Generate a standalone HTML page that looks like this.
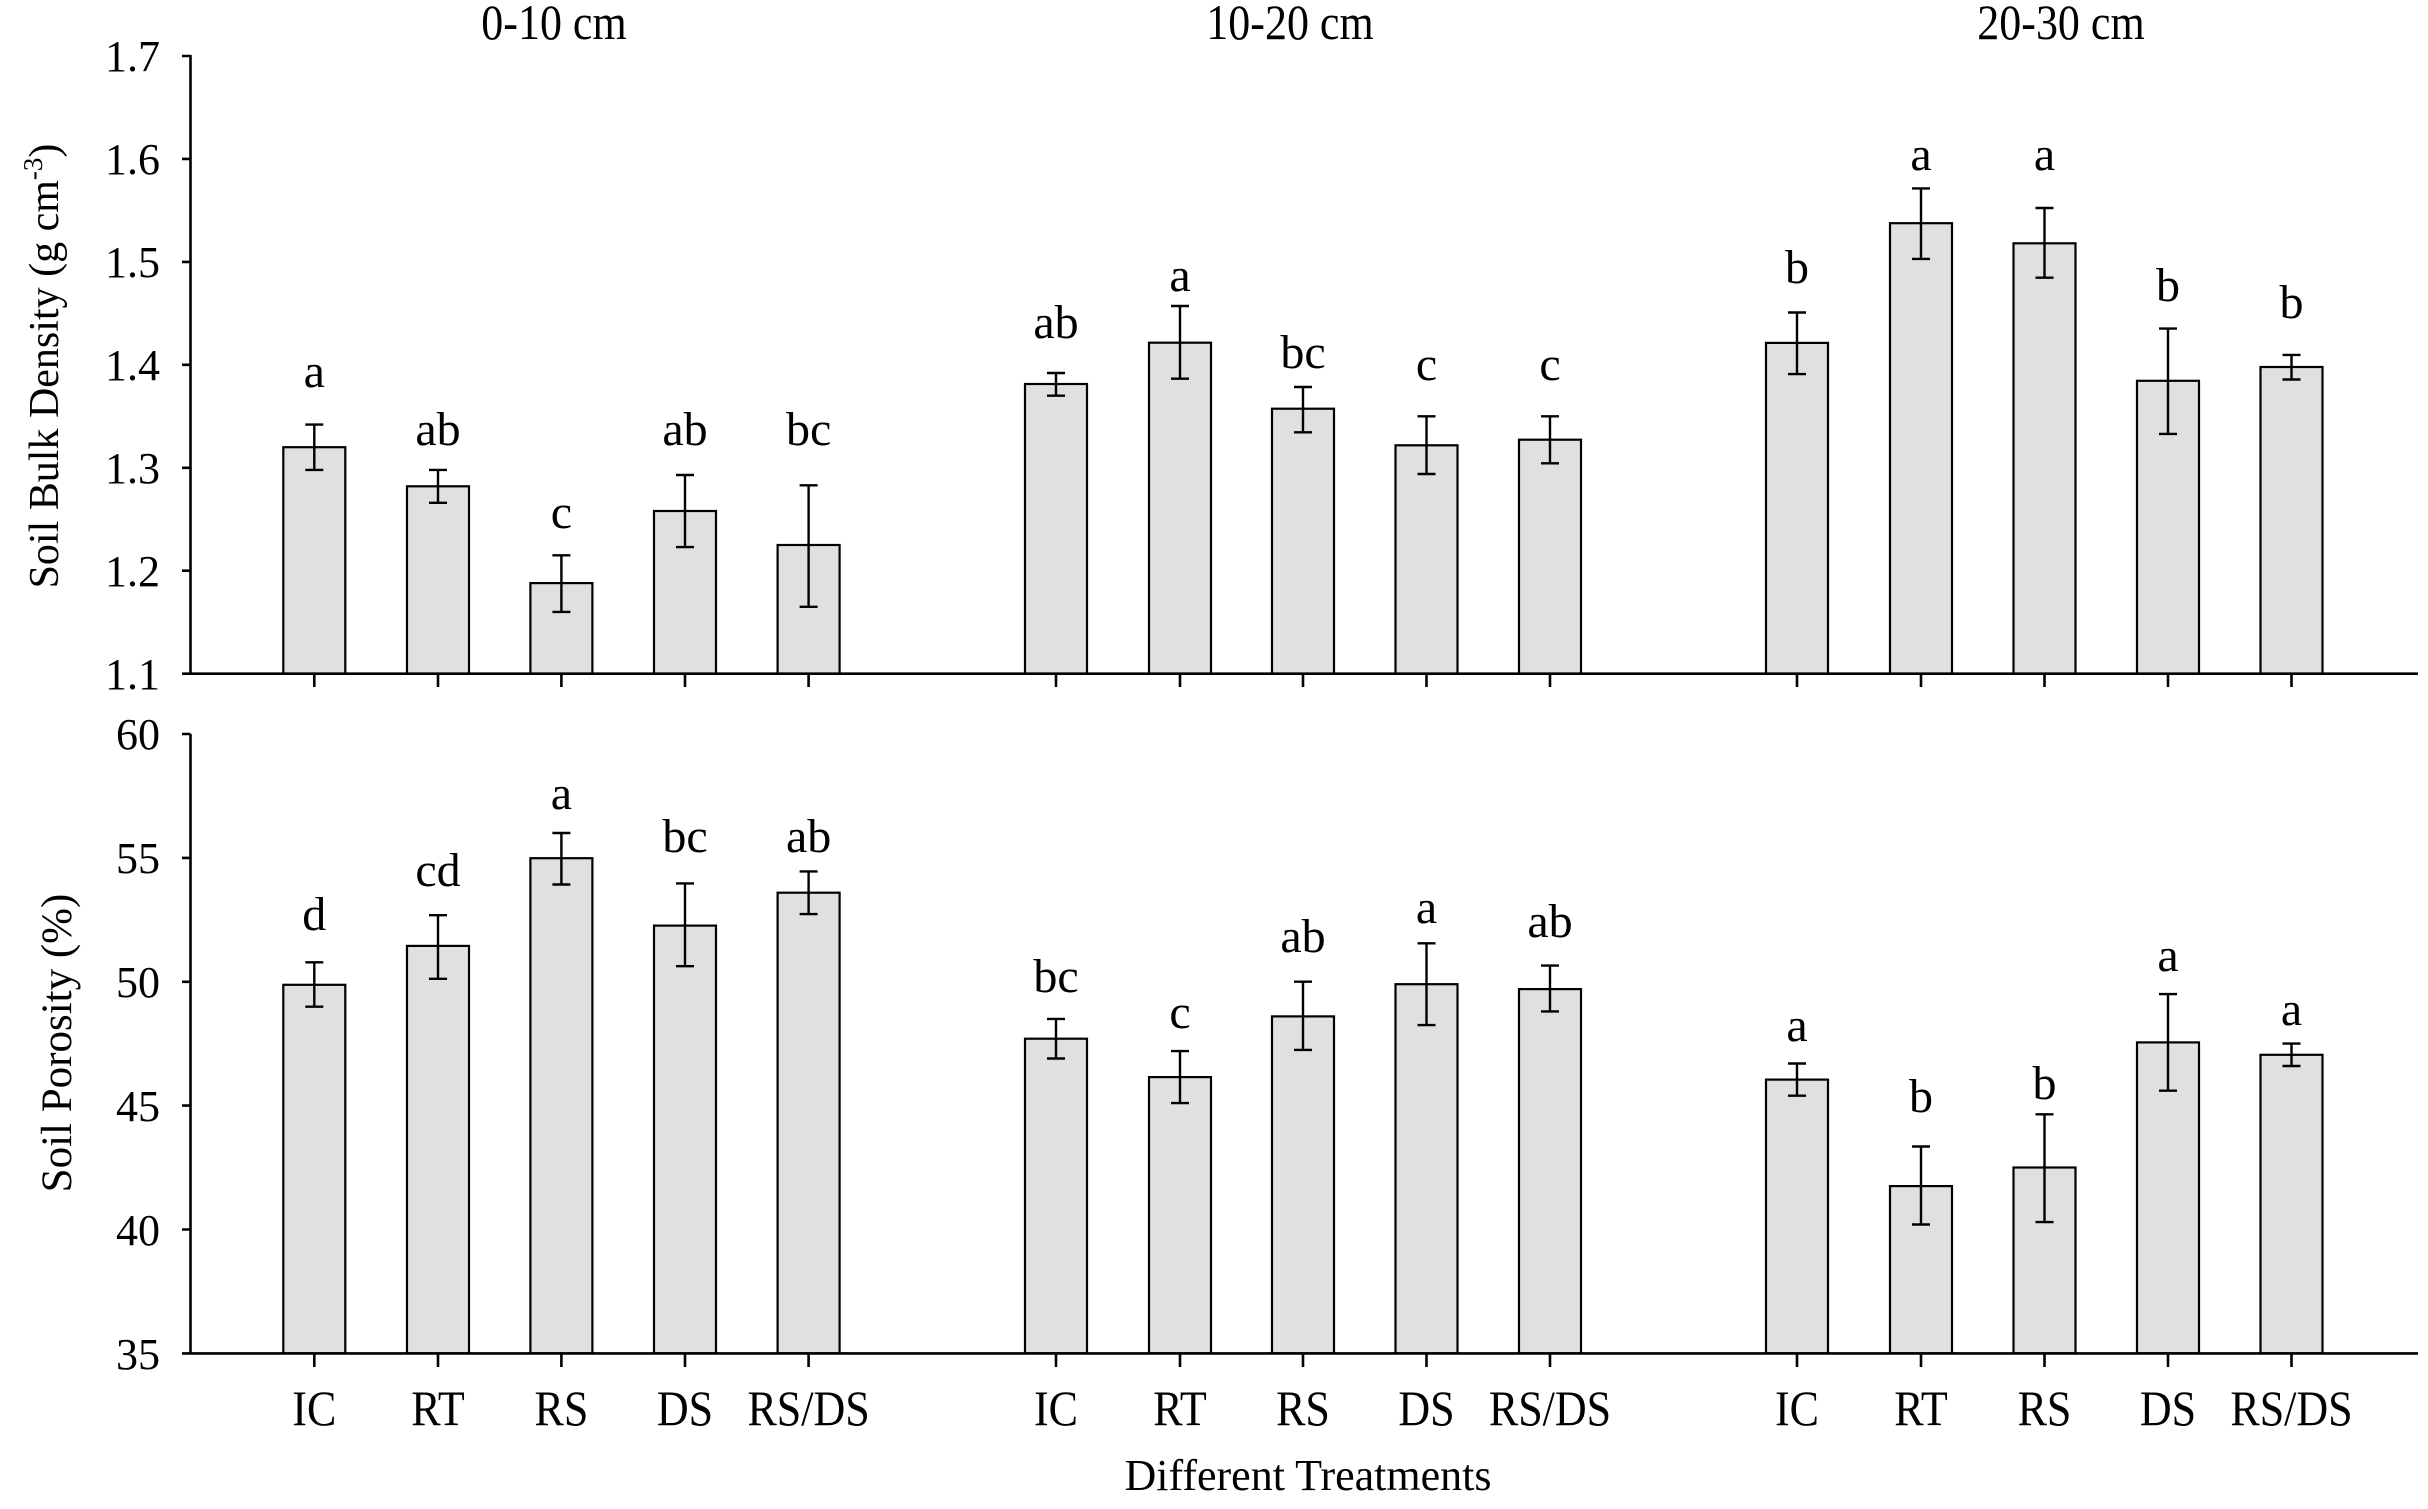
<!DOCTYPE html>
<html><head><meta charset="utf-8"><style>
html,body{margin:0;padding:0;background:#fff;}
svg{display:block;}
text{font-family:"Liberation Serif",serif;fill:#000;}
</style></head><body>
<svg width="2428" height="1509" viewBox="0 0 2428 1509" xmlns="http://www.w3.org/2000/svg">
<g fill="#e0e0e0" stroke="#000" stroke-width="2.2">
<rect x="283.3" y="447.2" width="62" height="226.5"/>
<rect x="407" y="486.3" width="62" height="187.4"/>
<rect x="530.4" y="583.1" width="62" height="90.6"/>
<rect x="654" y="511" width="62" height="162.7"/>
<rect x="777.6" y="545" width="62" height="128.7"/>
<rect x="1025" y="384" width="62" height="289.7"/>
<rect x="1149" y="342.7" width="62" height="331"/>
<rect x="1272" y="408.7" width="62" height="265"/>
<rect x="1395.5" y="445.3" width="62" height="228.4"/>
<rect x="1519" y="439.7" width="62" height="234"/>
<rect x="1766" y="342.9" width="62" height="330.8"/>
<rect x="1890" y="223.2" width="62" height="450.5"/>
<rect x="2013.5" y="243.3" width="62" height="430.4"/>
<rect x="2137" y="380.8" width="62" height="292.9"/>
<rect x="2260.5" y="367" width="62" height="306.7"/>
<rect x="283.3" y="984.8" width="62" height="368.6"/>
<rect x="407" y="945.9" width="62" height="407.5"/>
<rect x="530.4" y="858.2" width="62" height="495.2"/>
<rect x="654" y="925.6" width="62" height="427.8"/>
<rect x="777.6" y="892.7" width="62" height="460.7"/>
<rect x="1025" y="1038.7" width="62" height="314.7"/>
<rect x="1149" y="1077.1" width="62" height="276.3"/>
<rect x="1272" y="1016.4" width="62" height="337"/>
<rect x="1395.5" y="984.2" width="62" height="369.2"/>
<rect x="1519" y="989.1" width="62" height="364.3"/>
<rect x="1766" y="1079.6" width="62" height="273.8"/>
<rect x="1890" y="1186.1" width="62" height="167.3"/>
<rect x="2013.5" y="1167.5" width="62" height="185.9"/>
<rect x="2137" y="1042.4" width="62" height="311"/>
<rect x="2260.5" y="1054.8" width="62" height="298.6"/>
</g>
<g stroke="#000" stroke-width="2.4" fill="none">
<path d="M314.3 424.6V469.9M305.3 424.6H323.3M305.3 469.9H323.3"/>
<path d="M438 469.9V502.8M429 469.9H447M429 502.8H447"/>
<path d="M561.4 555.3V611.9M552.4 555.3H570.4M552.4 611.9H570.4"/>
<path d="M685 475V547.1M676 475H694M676 547.1H694"/>
<path d="M808.6 485.3V606.8M799.6 485.3H817.6M799.6 606.8H817.6"/>
<path d="M1056 373V395.7M1047 373H1065M1047 395.7H1065"/>
<path d="M1180 306V378.7M1171 306H1189M1171 378.7H1189"/>
<path d="M1303 387V432.3M1294 387H1312M1294 432.3H1312"/>
<path d="M1426.5 416.3V474M1417.5 416.3H1435.5M1417.5 474H1435.5"/>
<path d="M1550 416.3V463.3M1541 416.3H1559M1541 463.3H1559"/>
<path d="M1797 312.5V374.1M1788 312.5H1806M1788 374.1H1806"/>
<path d="M1921 188.4V258.9M1912 188.4H1930M1912 258.9H1930"/>
<path d="M2044.5 208V277.7M2035.5 208H2053.5M2035.5 277.7H2053.5"/>
<path d="M2168 328.6V433.9M2159 328.6H2177M2159 433.9H2177"/>
<path d="M2291.5 354.9V379.5M2282.5 354.9H2300.5M2282.5 379.5H2300.5"/>
<path d="M314.3 962.3V1006.7M305.3 962.3H323.3M305.3 1006.7H323.3"/>
<path d="M438 915.2V978.8M429 915.2H447M429 978.8H447"/>
<path d="M561.4 833V884.5M552.4 833H570.4M552.4 884.5H570.4"/>
<path d="M685 883.4V966.2M676 883.4H694M676 966.2H694"/>
<path d="M808.6 871.4V914.1M799.6 871.4H817.6M799.6 914.1H817.6"/>
<path d="M1056 1018.9V1058.5M1047 1018.9H1065M1047 1058.5H1065"/>
<path d="M1180 1051.1V1103.1M1171 1051.1H1189M1171 1103.1H1189"/>
<path d="M1303 981.7V1049.9M1294 981.7H1312M1294 1049.9H1312"/>
<path d="M1426.5 943.3V1025.1M1417.5 943.3H1435.5M1417.5 1025.1H1435.5"/>
<path d="M1550 965.6V1011.4M1541 965.6H1559M1541 1011.4H1559"/>
<path d="M1797 1063.5V1095.7M1788 1063.5H1806M1788 1095.7H1806"/>
<path d="M1921 1146.5V1224.5M1912 1146.5H1930M1912 1224.5H1930"/>
<path d="M2044.5 1114.3V1222.1M2035.5 1114.3H2053.5M2035.5 1222.1H2053.5"/>
<path d="M2168 994.1V1090.7M2159 994.1H2177M2159 1090.7H2177"/>
<path d="M2291.5 1043.6V1066M2282.5 1043.6H2300.5M2282.5 1066H2300.5"/>
</g>
<g stroke="#000" stroke-width="2.6" fill="none">
<path d="M190.5 55V673.7M182 673.7H2418"/>
<path d="M182 56H190.5M182 158.9H190.5M182 261.9H190.5M182 364.8H190.5M182 467.8H190.5M182 570.7H190.5"/>
<path d="M314.3 673.7V687M438 673.7V687M561.4 673.7V687M685 673.7V687M808.6 673.7V687M1056 673.7V687M1180 673.7V687M1303 673.7V687M1426.5 673.7V687M1550 673.7V687M1797 673.7V687M1921 673.7V687M2044.5 673.7V687M2168 673.7V687M2291.5 673.7V687"/>
<path d="M190.5 734V1353.4M182 1353.4H2418"/>
<path d="M182 734H190.5M182 857.9H190.5M182 981.8H190.5M182 1105.6H190.5M182 1229.5H190.5"/>
<path d="M314.3 1353.4V1367M438 1353.4V1367M561.4 1353.4V1367M685 1353.4V1367M808.6 1353.4V1367M1056 1353.4V1367M1180 1353.4V1367M1303 1353.4V1367M1426.5 1353.4V1367M1550 1353.4V1367M1797 1353.4V1367M1921 1353.4V1367M2044.5 1353.4V1367M2168 1353.4V1367M2291.5 1353.4V1367"/>
</g>
<g font-size="44" text-anchor="end">
<text x="160" y="71">1.7</text>
<text x="160" y="174">1.6</text>
<text x="160" y="277">1.5</text>
<text x="160" y="380">1.4</text>
<text x="160" y="483">1.3</text>
<text x="160" y="586">1.2</text>
<text x="160" y="689">1.1</text>
<text x="160" y="749">60</text>
<text x="160" y="873">55</text>
<text x="160" y="997">50</text>
<text x="160" y="1121">45</text>
<text x="160" y="1245">40</text>
<text x="160" y="1369">35</text>
</g>
<g font-size="44" text-anchor="middle" transform="translate(0,39) scale(1,1.12) translate(0,-39)">
<text x="554" y="39">0-10 cm</text>
<text x="1290" y="39">10-20 cm</text>
<text x="2061" y="39">20-30 cm</text>
</g>
<g font-size="48" text-anchor="middle">
<text x="314.3" y="387">a</text>
<text x="438" y="445">ab</text>
<text x="561.4" y="528">c</text>
<text x="685" y="445">ab</text>
<text x="808.6" y="445">bc</text>
<text x="1056" y="338">ab</text>
<text x="1180" y="291">a</text>
<text x="1303" y="368">bc</text>
<text x="1426.5" y="380">c</text>
<text x="1550" y="380">c</text>
<text x="1797" y="283">b</text>
<text x="1921" y="170">a</text>
<text x="2044.5" y="170">a</text>
<text x="2168" y="301">b</text>
<text x="2291.5" y="318">b</text>
<text x="314.3" y="930">d</text>
<text x="438" y="886">cd</text>
<text x="561.4" y="809">a</text>
<text x="685" y="852">bc</text>
<text x="808.6" y="852">ab</text>
<text x="1056" y="992">bc</text>
<text x="1180" y="1028">c</text>
<text x="1303" y="952">ab</text>
<text x="1426.5" y="923">a</text>
<text x="1550" y="937">ab</text>
<text x="1797" y="1041">a</text>
<text x="1921" y="1112">b</text>
<text x="2044.5" y="1099">b</text>
<text x="2168" y="971">a</text>
<text x="2291.5" y="1025">a</text>
</g>
<g font-size="44" text-anchor="middle" transform="translate(0,1425) scale(1,1.12) translate(0,-1425)">
<text x="314.3" y="1425">IC</text>
<text x="438" y="1425">RT</text>
<text x="561.4" y="1425">RS</text>
<text x="685" y="1425">DS</text>
<text x="808.6" y="1425">RS/DS</text>
<text x="1056" y="1425">IC</text>
<text x="1180" y="1425">RT</text>
<text x="1303" y="1425">RS</text>
<text x="1426.5" y="1425">DS</text>
<text x="1550" y="1425">RS/DS</text>
<text x="1797" y="1425">IC</text>
<text x="1921" y="1425">RT</text>
<text x="2044.5" y="1425">RS</text>
<text x="2168" y="1425">DS</text>
<text x="2291.5" y="1425">RS/DS</text>
</g>
<text x="1308" y="1490" font-size="44" text-anchor="middle">Different Treatments</text>
<text transform="translate(58,366) rotate(-90)" font-size="42" text-anchor="middle">Soil Bulk Density (g cm<tspan dy="-16" font-size="27">-3</tspan><tspan dy="16">)</tspan></text>
<text transform="translate(71,1043) rotate(-90)" font-size="43" text-anchor="middle">Soil Porosity (%)</text>
</svg>
</body></html>
